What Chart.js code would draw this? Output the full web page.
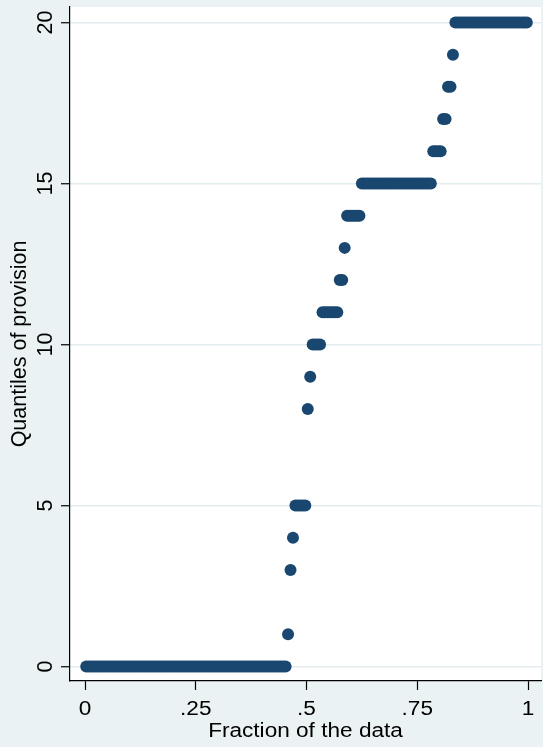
<!DOCTYPE html>
<html>
<head>
<meta charset="utf-8">
<title>Quantiles of provision</title>
<script src="https://cdn.jsdelivr.net/npm/chart.js@4/dist/chart.umd.min.js"></script>
<style>
  html, body { margin: 0; padding: 0; background: #EAF2F3; }
  #chart { display: block; }
</style>
</head>
<body>
<canvas id="chart" width="543" height="747" style="width:543px;height:747px"></canvas>
<script>
// Distinct provision values and how many observations take each value
const provisionValues = [0, 1, 3, 4, 5, 8, 9, 10, 11, 12, 13, 14, 15, 16, 17, 18, 19, 20];
const provisionCounts = [82, 1, 1, 1, 5, 1, 1, 4, 7, 2, 1, 6, 29, 4, 2, 2, 1, 30];

// Axis ticks
const xTickValues = [0, 0.25, 0.5, 0.75, 1];
const xTickLabels = ['0', '.25', '.5', '.75', '1'];
const yTickValues = [0, 5, 10, 15, 20];
const yTickLabels = ['0', '5', '10', '15', '20'];

const xTitle = 'Fraction of the data';
const yTitle = 'Quantiles of provision';

// Sorted observations -> quantile plot points, x = (i - 0.5) / N
const sorted = [];
provisionValues.forEach((v, k) => {
  for (let c = 0; c < provisionCounts[k]; c++) sorted.push(v);
});
const N = sorted.length;
const quantilePoints = sorted.map((v, i) => ({ x: (i + 0.5) / N, y: v }));

const FONT = '"Liberation Sans", Arial, Helvetica, sans-serif';
const BG = '#EAF2F3';

// Paints the outer region and the white plot region
const backgroundPlugin = {
  id: 'stataBackground',
  beforeDraw(chart) {
    const { ctx, chartArea: a } = chart;
    ctx.save();
    ctx.fillStyle = BG;
    ctx.fillRect(0, 0, chart.width, chart.height);
    ctx.fillStyle = '#FFFFFF';
    ctx.fillRect(a.left, a.top, a.right - a.left, a.bottom - a.top);
    ctx.restore();
  }
};

// Tick labels and axis titles (y labels rotated, as in Stata)
const axisTextPlugin = {
  id: 'axisText',
  afterDraw(chart) {
    const { ctx, chartArea: a } = chart;
    const xs = chart.scales.x, ys = chart.scales.y;
    ctx.save();
    ctx.fillStyle = '#000000';
    ctx.textAlign = 'center';
    ctx.textBaseline = 'alphabetic';

    ctx.font = '20px ' + FONT;
    xTickValues.forEach((v, i) => {
      ctx.save();
      ctx.translate(xs.getPixelForValue(v), 715);
      ctx.scale(1.13, 1);
      ctx.fillText(xTickLabels[i], 0, 0);
      ctx.restore();
    });

    ctx.save();
    ctx.translate((a.left + a.right) / 2, 737);
    ctx.scale(1.13, 1);
    ctx.fillText(xTitle, 0, 0);
    ctx.restore();

    ctx.font = '21.5px ' + FONT;
    yTickValues.forEach((v, i) => {
      ctx.save();
      ctx.translate(52, ys.getPixelForValue(v));
      ctx.rotate(-Math.PI / 2);
      ctx.fillText(yTickLabels[i], 0, 0);
      ctx.restore();
    });

    ctx.save();
    ctx.translate(26, (a.top + a.bottom) / 2);
    ctx.rotate(-Math.PI / 2);
    ctx.fillText(yTitle, 0, 0);
    ctx.restore();

    ctx.restore();
  }
};

new Chart(document.getElementById('chart'), {
  type: 'scatter',
  data: {
    datasets: [{
      data: quantilePoints,
      backgroundColor: '#1A476F',
      borderWidth: 0,
      pointRadius: 6,
      pointHoverRadius: 6
    }]
  },
  options: {
    responsive: false,
    animation: false,
    layout: { autoPadding: false, padding: { top: 7, right: 2, left: 0, bottom: 0 } },
    plugins: { legend: { display: false }, tooltip: { enabled: false } },
    scales: {
      x: {
        type: 'linear',
        min: -0.0339,
        max: 1.0293,
        afterBuildTicks(scale) { scale.ticks = xTickValues.map(v => ({ value: v })); },
        afterFit(scale) { scale.height = 66; },
        ticks: { display: false },
        grid: {
          drawOnChartArea: false,
          drawTicks: true,
          tickLength: 9,
          tickColor: '#000000',
          tickWidth: 1.2
        },
        border: { display: true, color: '#000000', width: 1.2 }
      },
      y: {
        type: 'linear',
        min: -0.45,
        max: 20.48,
        afterBuildTicks(scale) { scale.ticks = yTickValues.map(v => ({ value: v })); },
        afterFit(scale) { scale.width = 70; },
        ticks: { display: false },
        grid: {
          drawOnChartArea: true,
          color: '#E3ECEE',
          lineWidth: 1.5,
          drawTicks: true,
          tickLength: 9,
          tickColor: '#000000',
          tickWidth: 1.2
        },
        border: { display: true, color: '#000000', width: 1.2 }
      }
    }
  },
  plugins: [backgroundPlugin, axisTextPlugin]
});
</script>
</body>
</html>
